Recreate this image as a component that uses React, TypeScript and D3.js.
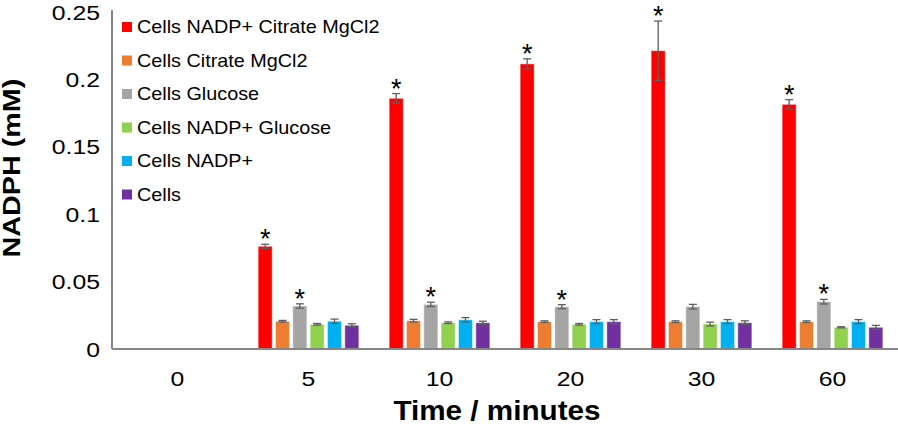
import React from "react";
import * as d3 from "d3";

const categories = ["0", "5", "10", "20", "30", "60"];
const seriesNames = [
  "Cells NADP+ Citrate MgCl2",
  "Cells Citrate MgCl2",
  "Cells Glucose",
  "Cells NADP+ Glucose",
  "Cells NADP+",
  "Cells",
];
const seriesColors = ["#FF0000", "#ED7D31", "#A5A5A5", "#92D050", "#00B0F0", "#7030A0"];

// values per series, per category (null = no bar)
const redValues = [null, 0.0762, 0.186, 0.2115, 0.2213, 0.1815];
const redErrors = [null, 0.0015, 0.0035, 0.0038, 0.022, 0.0035];
const orangeValues = [null, 0.0206, 0.021, 0.0203, 0.0203, 0.0203];
const orangeErrors = [null, 0.0006, 0.001, 0.0006, 0.0006, 0.0006];
const grayValues = [null, 0.0319, 0.0331, 0.0314, 0.0314, 0.0351];
const grayErrors = [null, 0.0016, 0.0016, 0.0015, 0.0017, 0.0017];
const greenValues = [null, 0.0183, 0.0195, 0.0183, 0.0185, 0.0161];
const greenErrors = [null, 0.0006, 0.0006, 0.0006, 0.0014, 0.0004];
const blueValues = [null, 0.0206, 0.0217, 0.0203, 0.0203, 0.0203];
const blueErrors = [null, 0.0016, 0.0016, 0.0015, 0.0015, 0.0015];
const purpleValues = [null, 0.0176, 0.0195, 0.0203, 0.0195, 0.0161];
const purpleErrors = [null, 0.0011, 0.0011, 0.0015, 0.0014, 0.0014];

const redStars = [false, true, true, true, true, true];
const grayStars = [false, true, true, true, false, true];

const yTicks = [0, 0.05, 0.1, 0.15, 0.2, 0.25];
const yTickLabels = ["0", "0.05", "0.1", "0.15", "0.2", "0.25"];

const allValues = [redValues, orangeValues, grayValues, greenValues, blueValues, purpleValues];
const allErrors = [redErrors, orangeErrors, grayErrors, greenErrors, blueErrors, purpleErrors];
const allStars = [redStars, null, grayStars, null, null, null];

const W = 898;
const H = 428;
const axisLeft = 112;
const axisRight = 898;
const baseY = 349;
const topY = 12;

export default function App() {
  const x0 = d3.scaleBand<string>().domain(categories).range([axisLeft, axisRight]);
  const bw = x0.bandwidth();
  const groupSpan = 104;
  const x1 = d3
    .scaleBand<string>()
    .domain(seriesNames)
    .range([(bw - groupSpan) / 2, (bw + groupSpan) / 2])
    .paddingInner(0.19)
    .paddingOuter(0.095);
  const y = d3.scaleLinear().domain([0, 0.25]).range([baseY, topY]);

  const font = "Arial, 'Liberation Sans', sans-serif";
  const tickStretch = 1.18;

  return (
    <svg
      width={W}
      height={H}
      style={{ position: "fixed", left: 0, top: 0, background: "#fff" }}
      fontFamily={font}
    >
      <rect x={0} y={0} width={W} height={H} fill="#fff" />
      {/* y tick labels */}
      {yTicks.map((t, i) => (
        <text
          key={i}
          transform={`translate(100,${y(t)}) scale(${tickStretch},1)`}
          dy="0.36em"
          textAnchor="end"
          fontSize={21}
          fill="#000"
        >
          {yTickLabels[i]}
        </text>
      ))}
      {/* y axis title */}
      <text
        transform={`translate(${12},${168}) rotate(-90) scale(1.25,1)`}
        textAnchor="middle"
        fontSize={23}
        fontWeight="bold"
        fill="#000"
        dy="0.36em"
      >
        NADPH (mM)
      </text>
      {/* bars */}
      {categories.map((c, ci) => (
        <g key={c} transform={`translate(${x0(c)},0)`}>
          {seriesNames.map((s, si) => {
            const v = allValues[si][ci];
            if (v == null) return null;
            const e = allErrors[si][ci] || 0;
            const bx = x1(s)!;
            const w = x1.bandwidth();
            const cx = bx + w / 2;
            const stars = allStars[si];
            const errTop = y(v + e);
            return (
              <g key={s}>
                <rect
                  x={bx}
                  y={y(v)}
                  width={w}
                  height={baseY - y(v)}
                  fill={seriesColors[si]}
                  stroke="#ffffff"
                  strokeOpacity={0.45}
                  strokeWidth={1}
                />
                <line x1={cx} x2={cx} y1={y(v + e)} y2={y(v - e)} stroke="#5f5f5f" strokeWidth={1.3} />
                <line x1={cx - 4} x2={cx + 4} y1={y(v + e)} y2={y(v + e)} stroke="#5f5f5f" strokeWidth={1.3} />
                <line x1={cx - 4} x2={cx + 4} y1={y(v - e)} y2={y(v - e)} stroke="#5f5f5f" strokeWidth={1.3} />
                {stars && stars[ci] ? (
                  <text x={cx} y={errTop + 4} textAnchor="middle" fontSize={27} fill="#000">
                    *
                  </text>
                ) : null}
              </g>
            );
          })}
        </g>
      ))}
      {/* axes */}
      <line x1={axisLeft} x2={axisLeft} y1={10} y2={baseY} stroke="#868686" strokeWidth={2} />
      <line x1={axisLeft} x2={axisRight} y1={baseY} y2={baseY} stroke="#868686" strokeWidth={2} />
      {/* x tick labels */}
      {categories.map((c) => (
        <text
          key={c}
          transform={`translate(${x0(c)! + bw / 2},378) scale(${tickStretch},1)`}
          dy="0.36em"
          textAnchor="middle"
          fontSize={21}
          fill="#000"
        >
          {c}
        </text>
      ))}
      <text
        transform={`translate(497,410) scale(1.06,1)`}
        dy="0.36em"
        textAnchor="middle"
        fontSize={28}
        fontWeight="bold"
        fill="#000"
      >
        Time / minutes
      </text>
      {/* legend */}
      {seriesNames.map((s, i) => (
        <g key={s} transform={`translate(122,${27 + i * 33.5})`}>
          <rect x={0} y={-5} width={10} height={10} fill={seriesColors[i]} />
          <text transform="translate(15,0) scale(1.1,1)" dy="0.36em" fontSize={18} fill="#000">
            {s}
          </text>
        </g>
      ))}
    </svg>
  );
}
